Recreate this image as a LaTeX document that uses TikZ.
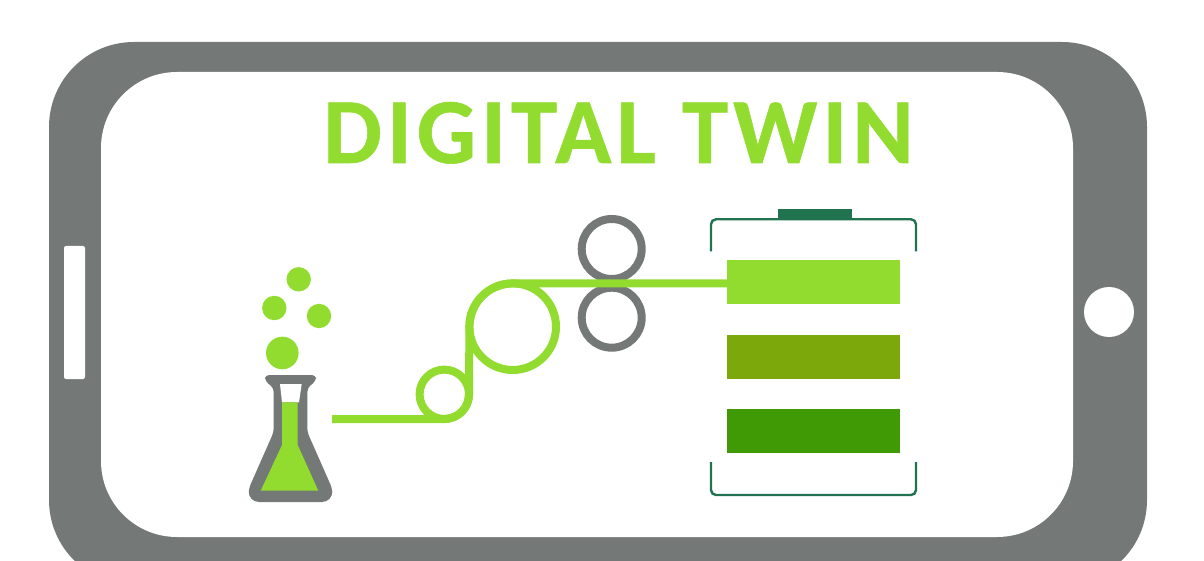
\documentclass[tikz,border=0pt]{standalone}
\usepackage{fontspec}
\setmainfont{Carlito}
\newfontfamily\titlefont[LetterSpace=5.5,BoldFeatures={FakeBold=0.6}]{Carlito}
\definecolor{casegray}{HTML}{747977}
\definecolor{leaf}{HTML}{92DC30}
\definecolor{olive}{HTML}{7DA80C}
\definecolor{deepgreen}{HTML}{3F9A05}
\definecolor{pine}{HTML}{217350}
\tikzset{
  film/.style={draw=leaf,line width=8pt},
  roll/.style={draw=casegray,line width=8pt},
  bracket/.style={draw=pine,line width=2.4pt,rounded corners=5pt},
  bubble/.style={fill=leaf}
}
\begin{document}
\begin{tikzpicture}[x=1pt,y=-1pt]
\useasboundingbox (0,0) rectangle (1204,561);
\clip (0,0) rectangle (1204,561);
% phone
\fill[casegray,rounded corners=85pt] (49,42) rectangle (1147,585);
\fill[white,rounded corners=76pt] (101,72) rectangle (1073,537);
\fill[white,rounded corners=2pt] (64,246) rectangle (85,379);
\fill[white] (1109,312) circle (25);
% title
\node[anchor=base,inner sep=0pt,text=leaf,font=\titlefont\bfseries\fontsize{93}{93}\selectfont] (title) at (618.5,163) {DIGITAL TWIN};
% bubbles
\fill[bubble] (298.7,279.3) circle (12.2);
\fill[bubble] (274.3,308) circle (12.2);
\fill[bubble] (319,316) circle (12.2);
\fill[bubble] (282.3,353) circle (16.3);
% flask
\fill[casegray,rounded corners=4pt] (265,375) -- (316,375) -- (316,381) -- (307.3,388) -- (307.3,432) -- (332,488)
  [rounded corners=11pt] -- (333,502) -- (248,502) [rounded corners=4pt] -- (249,488) -- (273.7,432) -- (273.7,388) -- (265,381) -- cycle;
\fill[white] (280,384) -- (301.7,384) -- (299,402.3) -- (282,402.3) -- cycle;
\fill[leaf] (282,402.3) -- (297.7,402.3) -- (297.7,445) -- (318.3,490.7) -- (260.7,490.7) -- (282,445) -- cycle;
% rollers
\draw[roll] (611.7,249) circle (30);
\draw[roll] (611.7,317.7) circle (30);
% film
\draw[film] (444.3,394.3) circle (24.7);
\draw[film] (512.7,326.7) circle (43.3);
\draw[film] (332,419) -- (444.3,419) arc[start angle=90,end angle=0,radius=24.7] -- (469.4,326.7) arc[start angle=180,end angle=270,radius=43.3] -- (727,283.4);
% battery
\fill[leaf] (727,260) rectangle (900,304);
\fill[olive] (727,335) rectangle (900,379);
\fill[deepgreen] (727,409) rectangle (900,453);
\fill[pine] (778,209) rectangle (852,219.5);
\draw[bracket] (711,251.5) -- (711,219.3) -- (916,219.3) -- (916,251.5);
\draw[bracket] (711,462) -- (711,495) -- (916,495) -- (916,462);
\end{tikzpicture}
\end{document}
